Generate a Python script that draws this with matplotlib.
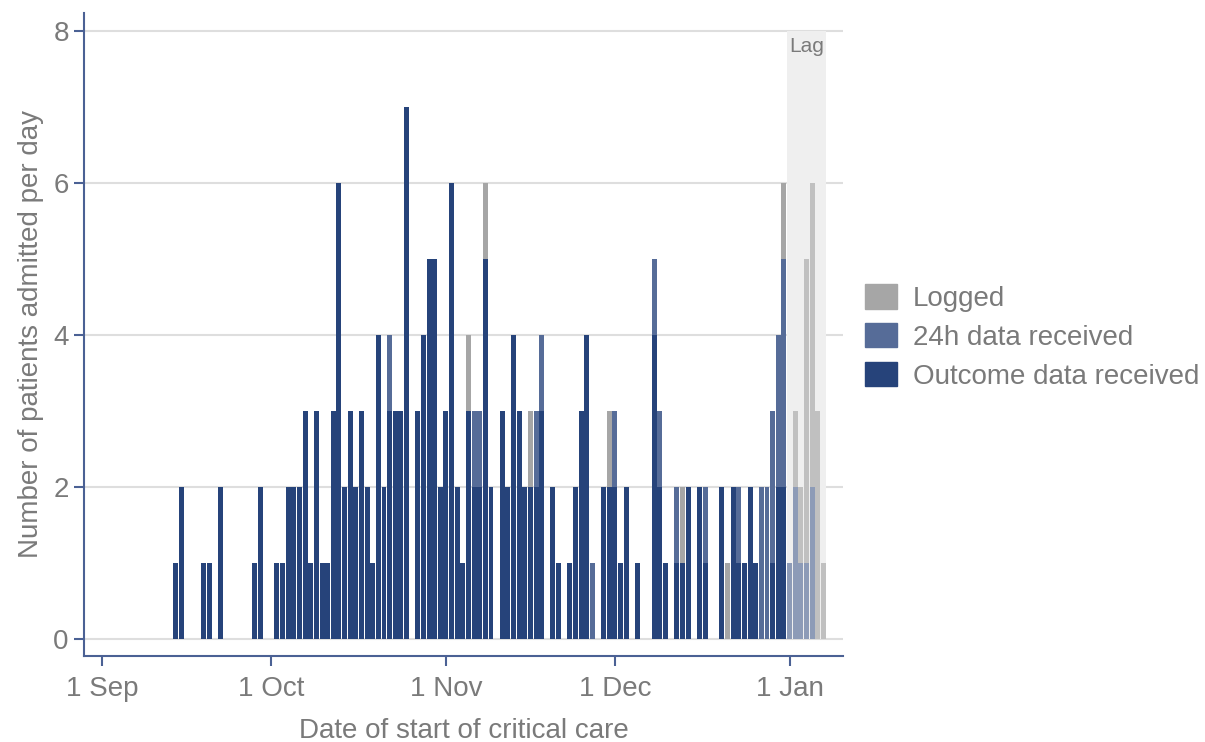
import numpy as np
import pandas as pd
import matplotlib
matplotlib.use("Agg")
import matplotlib.pyplot as plt
import matplotlib.dates as mdates
from matplotlib.patches import Patch

plt.rcParams['font.family'] = ['Liberation Sans', 'DejaVu Sans']

# daily admissions, first bar on 14 Sep
start_date = "2020-09-14"
outcome = [1, 2, 0, 0, 0, 1, 1, 0, 2, 0, 0, 0, 0, 0, 1, 2, 0, 0, 1, 1,
           2, 2, 2, 3, 1, 3, 1, 1, 3, 6, 2, 3, 2, 3, 2, 1, 4, 2, 3, 3,
           3, 7, 0, 3, 4, 5, 5, 2, 3, 6, 2, 1, 3, 2, 2, 5, 2, 0, 3, 2,
           4, 3, 2, 2, 2, 3, 0, 2, 1, 0, 1, 2, 3, 4, 0, 0, 2, 2, 2, 1,
           2, 0, 1, 0, 0, 4, 2, 1, 0, 1, 1, 2, 0, 2, 1, 0, 0, 2, 0, 2,
           1, 1, 2, 1, 0, 0, 1, 2, 2, 0, 0, 0, 0, 0, 0, 0]
h24 = [0, 0, 0, 0, 0, 0, 0, 0, 0, 0, 0, 0, 0, 0, 0, 0, 0, 0, 0, 0,
       0, 0, 0, 0, 0, 0, 0, 0, 0, 0, 0, 0, 0, 0, 0, 0, 0, 0, 1, 0,
       0, 0, 0, 0, 0, 0, 0, 0, 0, 0, 0, 0, 0, 1, 1, 0, 0, 0, 0, 0,
       0, 0, 0, 0, 1, 1, 0, 0, 0, 0, 0, 0, 0, 0, 1, 0, 0, 0, 1, 0,
       0, 0, 0, 0, 0, 1, 1, 0, 0, 1, 0, 0, 0, 0, 1, 0, 0, 0, 0, 0,
       1, 0, 0, 0, 2, 2, 2, 2, 3, 1, 2, 1, 1, 2, 0, 0]
logged = [0, 0, 0, 0, 0, 0, 0, 0, 0, 0, 0, 0, 0, 0, 0, 0, 0, 0, 0, 0,
          0, 0, 0, 0, 0, 0, 0, 0, 0, 0, 0, 0, 0, 0, 0, 0, 0, 0, 0, 0,
          0, 0, 0, 0, 0, 0, 0, 0, 0, 0, 0, 0, 1, 0, 0, 1, 0, 0, 0, 0,
          0, 0, 0, 1, 0, 0, 0, 0, 0, 0, 0, 0, 0, 0, 0, 0, 0, 1, 0, 0,
          0, 0, 0, 0, 0, 0, 0, 0, 0, 0, 1, 0, 0, 0, 0, 0, 0, 0, 1, 0,
          0, 0, 0, 0, 0, 0, 0, 0, 1, 0, 1, 1, 4, 4, 3, 1]
lag_start = "2021-01-01"
lag_end = "2021-01-07"

series_names = ["Logged", "24h data received", "Outcome data received"]
col_log = "#a6a6a6"
col_24 = "#566c98"
col_out = "#26437a"
axis_col = "#4b6194"
text_col = "#7a7a7a"

dates = pd.date_range(start_date, periods=len(outcome), freq="D")
outcome = np.array(outcome)
h24 = np.array(h24)
logged = np.array(logged)
in_lag = dates >= pd.Timestamp(lag_start)

fig = plt.figure(figsize=(12.05, 7.42), dpi=100)
ax = fig.add_axes([0.07, 0.116, 0.6296, 0.8665])

# lag window background
lx0 = mdates.date2num(pd.Timestamp(lag_start)) - 0.5
lx1 = mdates.date2num(pd.Timestamp(lag_end)) + 0.5
ax.fill_between([lx0, lx1], 0, 8, color="#efefef", linewidth=0, zorder=1)
ax.text((lx0 + lx1) / 2, 7.93, "Lag", ha="center", va="top",
        fontsize=15, color=text_col, zorder=3)

# stacked bars, lighter inside the lag window
w = 0.88
for mask, a in [(~in_lag, 1.0), (in_lag, 0.64)]:
    d = dates[mask]
    ax.bar(d, outcome[mask], width=w, color=col_out, alpha=a, linewidth=0, zorder=2)
    ax.bar(d, h24[mask], width=w, bottom=outcome[mask], color=col_24, alpha=a,
           linewidth=0, zorder=2)
    ax.bar(d, logged[mask], width=w, bottom=outcome[mask] + h24[mask], color=col_log,
           alpha=a, linewidth=0, zorder=2)

sep1 = mdates.date2num(pd.Timestamp("2020-09-01"))
ax.set_xlim(sep1 - 3.2, sep1 + 131.5)
ax.set_ylim(-0.22, 8.24)
ax.set_yticks([0, 2, 4, 6, 8])
ax.xaxis.set_major_locator(mdates.DayLocator(bymonthday=1))
ax.xaxis.set_major_formatter(plt.FuncFormatter(
    lambda x, pos: f"{mdates.num2date(x).day} {mdates.num2date(x):%b}"))

ax.set_axisbelow(True)
ax.yaxis.grid(True, color="#dedede", linewidth=1.5)
for s in ["top", "right"]:
    ax.spines[s].set_visible(False)
for s in ["left", "bottom"]:
    ax.spines[s].set_color(axis_col)
    ax.spines[s].set_linewidth(1.5)
ax.tick_params(axis="both", colors=axis_col, labelcolor=text_col, labelsize=20,
               length=7.2, width=1.5, pad=4)
ax.tick_params(axis="x", pad=7)

ax.set_xlabel("Date of start of critical care", fontsize=20, color=text_col, labelpad=12)
ax.set_ylabel("Number of patients admitted per day", fontsize=20, color=text_col, labelpad=7)

handles = [Patch(color=col_log), Patch(color=col_24), Patch(color=col_out)]
fig.legend(handles, series_names, loc="center left",
           bbox_to_anchor=(865 / 1205, 1 - 337 / 742), frameon=False, fontsize=20,
           handlelength=1.15, handleheight=0.97, handletextpad=0.58, labelspacing=0.40,
           borderpad=0, borderaxespad=0, labelcolor=text_col)

fig.savefig("out.png", dpi=100)
